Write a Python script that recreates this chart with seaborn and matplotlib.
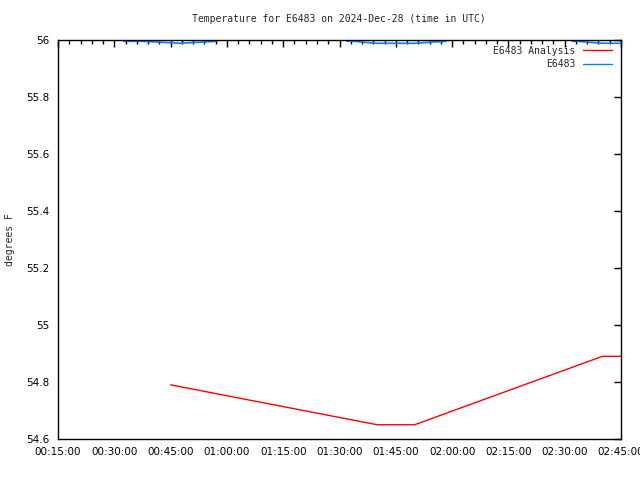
import matplotlib
matplotlib.use("Agg")
import matplotlib.pyplot as plt
import seaborn as sns
import pandas as pd
from matplotlib.lines import Line2D
from matplotlib.ticker import MultipleLocator, FuncFormatter

# ---- data (times in minutes after midnight UTC) ----
analysis_times = [45, 100, 110, 160, 165]
analysis_temps = [54.79, 54.65, 54.65, 54.89, 54.89]

obs_segment = [1, 1, 1, 1, 1, 1, 2, 2, 2, 2, 2, 2, 2, 3, 3, 3, 3, 3]
obs_times = [32.5, 37.5, 42.5, 47.5, 52.5, 57.5,
             92, 94, 96.5, 100, 110, 114, 118.4,
             152, 153.5, 156.5, 160, 165]
obs_temps = [55.9955, 55.9955, 55.992, 55.9885, 55.992, 55.9955,
             55.9955, 55.9955, 55.992, 55.9885, 55.9885, 55.992, 55.9955,
             55.9955, 55.9955, 55.992, 55.9885, 55.9885]

title = "Temperature for E6483 on 2024-Dec-28 (time in UTC)"
ylabel = "degrees F"
series_names = ["E6483 Analysis", "E6483"]

sns.set_style("white")
plt.rcParams["font.family"] = ["DejaVu Sans"]
plt.rcParams["font.size"] = 7
mono = ["DejaVu Sans Mono"]

fig = plt.figure(figsize=(6.4, 4.8), dpi=100)
ax = fig.add_axes([58/640, 41/480, (621-58)/640, (439-40)/480])

df_a = pd.DataFrame({"t": analysis_times, "v": analysis_temps})
df_o = pd.DataFrame({"t": obs_times, "v": obs_temps, "seg": obs_segment})

sns.lineplot(data=df_a, x="t", y="v", ax=ax, color="#ff0000", lw=1, legend=False)
sns.lineplot(data=df_o, x="t", y="v", units="seg", estimator=None, ax=ax,
             color="#0080ff", lw=1.2, legend=False)

ax.set_xlim(15, 165)
ax.set_ylim(54.6, 56.0)
ax.xaxis.set_major_locator(MultipleLocator(15))
ax.xaxis.set_minor_locator(MultipleLocator(3))
ax.yaxis.set_major_locator(MultipleLocator(0.2))

def tfmt(x, pos):
    m = int(round(x))
    return f"{m//60:02d}:{m%60:02d}:00"

def yfmt(y, pos):
    s = f"{y:.1f}"
    if s.endswith(".0"):
        s = s[:-2]
    return s

ax.xaxis.set_major_formatter(FuncFormatter(tfmt))
ax.yaxis.set_major_formatter(FuncFormatter(yfmt))
ax.tick_params(which="both", direction="in", top=True, right=True,
               colors="black", labelsize=7.5, width=1)
ax.tick_params(which="major", length=5, pad=6)
ax.tick_params(which="minor", length=3)
ax.tick_params(axis="y", which="minor", left=False, right=False)

for s in ax.spines.values():
    s.set_color("black")
    s.set_linewidth(1)

ax.set_xlabel("")
ax.set_ylabel(ylabel, fontsize=7, family=mono)
ax.yaxis.set_label_coords((15 - 58) / (621 - 58), 0.5)
fig.text(339/640, 1 - 19/480, title, ha="center", va="center", fontsize=7, family=mono)

handles = [Line2D([], [], color="#ff0000", lw=1), Line2D([], [], color="#0080ff", lw=1)]
leg = ax.legend(handles, series_names, loc="upper right", markerfirst=False, frameon=False,
                fontsize=7, handlelength=3.0, borderaxespad=0.2, labelspacing=0.35,
                handletextpad=0.8, bbox_to_anchor=(0.995, 1.0))
for t in leg.get_texts():
    t.set_family(mono)

fig.savefig("out.png", dpi=100)
